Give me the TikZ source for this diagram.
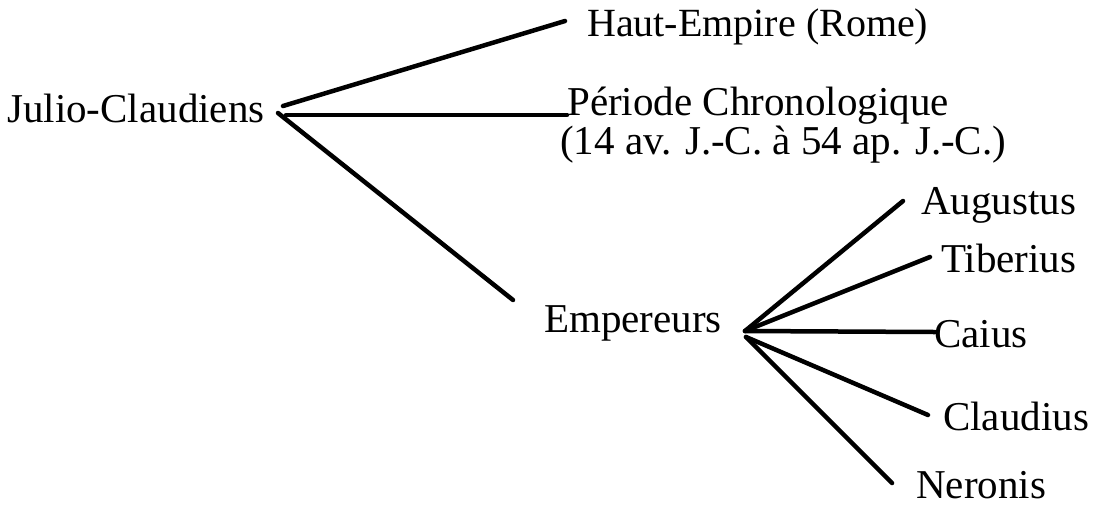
\documentclass[tikz,border=0pt]{standalone}
\usepackage{fontspec}
\setmainfont{Liberation Serif}
\begin{document}
\begin{tikzpicture}[x=1pt,y=-1pt]
\tikzstyle{lbl}=[anchor=base west,inner sep=0pt,font=\fontsize{41}{34}\selectfont]
\tikzstyle{every node}=[lbl]
\tikzstyle{branch}=[line width=4.5pt,line cap=round]
\useasboundingbox (0,0) rectangle (1099,507);
% first level
\node (julio) at (7,122) {Julio-Claudiens};
\node[font=\fontsize{40}{40}\selectfont] (haut) at (587,36) {Haut-Empire (Rome)};
\node[anchor=north west,align=left] (periode) at (567,87)
  {Période Chronologique\\\hspace*{-7pt}(14 av. J.-C. à 54 ap. J.-C.)};
\node (emp) at (544,332) {Empereurs};
% emperors
\node (aug) at (921,214) {Augustus};
\node (tib) at (941,272) {Tiberius};
\node (caius) at (934,347) {Caius};
\node (claud) at (943,430) {Claudius};
\node (nero) at (916,498) {Neronis};
\coordinate (r1) at (283,106);
\coordinate (r2) at (286,115);
\coordinate (r3) at (278,113);
\coordinate (h) at (565,21);
\coordinate (p) at (567,115);
\coordinate (e) at (513,300);
\coordinate (f1) at (745,331);
\coordinate (f2) at (746,337);
\coordinate (a) at (903,201);
\coordinate (t) at (930,257);
\coordinate (c) at (935,332);
\coordinate (cl) at (928,415);
\coordinate (n) at (892,483);
\draw[branch] (r1) -- (h);
\draw[branch] (r2) -- (p);
\draw[branch] (r3) -- (e);
\foreach \k in {a,t,c} \draw[branch] (f1) -- (\k);
\foreach \k in {cl,n} \draw[branch] (f2) -- (\k);
\end{tikzpicture}
\end{document}
